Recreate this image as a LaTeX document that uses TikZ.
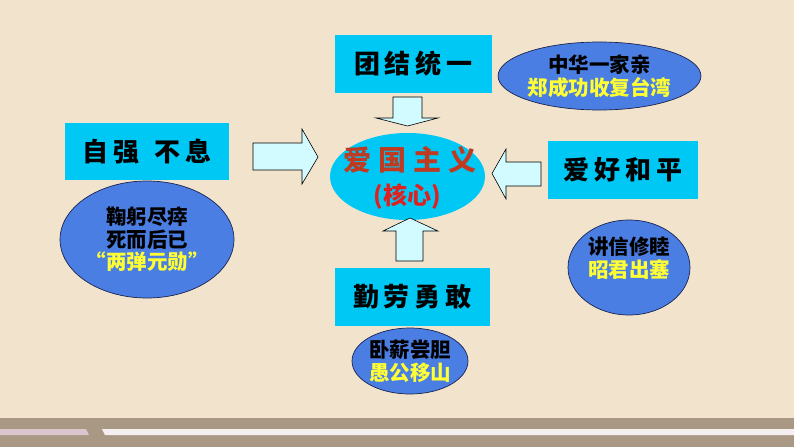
\documentclass[tikz,border=0pt]{standalone}
\usepackage{fontspec}
\newfontfamily\cjk{Noto Sans CJK SC}
\usetikzlibrary{shapes.geometric}
\definecolor{bg}{HTML}{F2E3CD}
\definecolor{band}{HTML}{A99884}
\definecolor{lilac}{HTML}{D9C6CF}
\definecolor{whitish}{HTML}{F6EFF0}
\definecolor{boxcyan}{HTML}{00C8F5}
\definecolor{ellblue}{HTML}{4A7EE3}
\definecolor{arrowfill}{HTML}{D2FBFF}
\definecolor{yel}{HTML}{FFFF33}
\definecolor{brownred}{HTML}{C03A22}
\definecolor{corered}{HTML}{E0201E}
\definecolor{navy}{HTML}{1A2450}
\newcommand\gp{\hspace{5pt}}
\tikzset{
  topicbox/.style={rectangle, fill=boxcyan, inner sep=0pt, font=\cjk\bfseries\fontsize{26}{28}\selectfont},
  tipbubble/.style={ellipse, fill=ellblue, draw=navy, line width=0.7pt, inner sep=0pt, align=center,
     font=\cjk\bfseries\fontsize{20.5}{22.5}\selectfont},
  blockarrow/.style={draw=black, line width=0.6pt, fill=arrowfill, line join=miter}
}
\begin{document}
\begin{tikzpicture}[x=1pt,y=-1pt]
\useasboundingbox (0,0) rectangle (794,447);
% background
\fill[bg] (0,0) rectangle (794,447);
\fill[band] (0,418) rectangle (794,447);
\fill[lilac] (0,429) -- (86,429) -- (89,435) -- (0,435) -- cycle;
\fill[whitish] (102,429) -- (794,429) -- (794,435) -- (105,435) -- cycle;

% topic boxes
\node[topicbox, minimum width=157pt, minimum height=58pt] (unity) at (413.5,64) {团\gp 结\gp 统\gp 一};
\node[topicbox, minimum width=164pt, minimum height=57pt] (strive) at (147,151.5) {自\gp 强\gp\gp\gp 不\gp 息};
\node[topicbox, minimum width=150pt, minimum height=58pt] (peace) at (623,170) {爱\gp 好\gp 和\gp 平};
\node[topicbox, minimum width=155pt, minimum height=58pt] (brave) at (412.5,297) {勤\gp 劳\gp 勇\gp 敢};

% core
\node[ellipse, fill=boxcyan, inner sep=0pt, minimum width=155pt, minimum height=87pt, align=center] (core) at (407.5,176.5) {};
\node[font=\cjk\bfseries\fontsize{28}{30}\selectfont, text=brownred] (coretitle) at (410,160) {爱\hspace{7pt}国\hspace{7pt}主\hspace{7pt}义};
\node[font=\cjk\bfseries\fontsize{24}{28}\selectfont, text=corered] (coresub) at (407,197) {(核心)};

% bubbles
\node[tipbubble, minimum width=179pt, minimum height=68pt] (b1) at (599.5,76) {中华一家亲\\\textcolor{yel}{郑成功收复台湾}};
\node[tipbubble, minimum width=134pt, minimum height=117pt] (b2) at (147,239.5) {鞠躬尽瘁\\死而后已\\\textcolor{yel}{“两弹元勋”}};
\node[tipbubble, minimum width=122pt, minimum height=95pt] (b3) at (629,267.5) {讲信修睦\\\textcolor{yel}{昭君出塞}\\[-2pt]};
\node[tipbubble, minimum width=116pt, minimum height=66pt] (b4) at (410,361) {卧薪尝胆\\\textcolor{yel}{愚公移山}};

% block arrows
\draw[blockarrow] (253,143) -- (302,143) -- (302,129) -- (318,157) -- (302,184) -- (302,170) -- (253,170) -- cycle;
\draw[blockarrow] (541,162) -- (506,162) -- (506,149) -- (492,173.5) -- (506,199) -- (506,186) -- (541,186) -- cycle;
\draw[blockarrow] (393,97) -- (422,97) -- (422,118) -- (438,118) -- (407.5,126) -- (376,118) -- (393,118) -- cycle;
\draw[blockarrow] (396,261) -- (423,261) -- (423,231) -- (438,231) -- (410,218) -- (383,231) -- (396,231) -- cycle;
\end{tikzpicture}
\end{document}
